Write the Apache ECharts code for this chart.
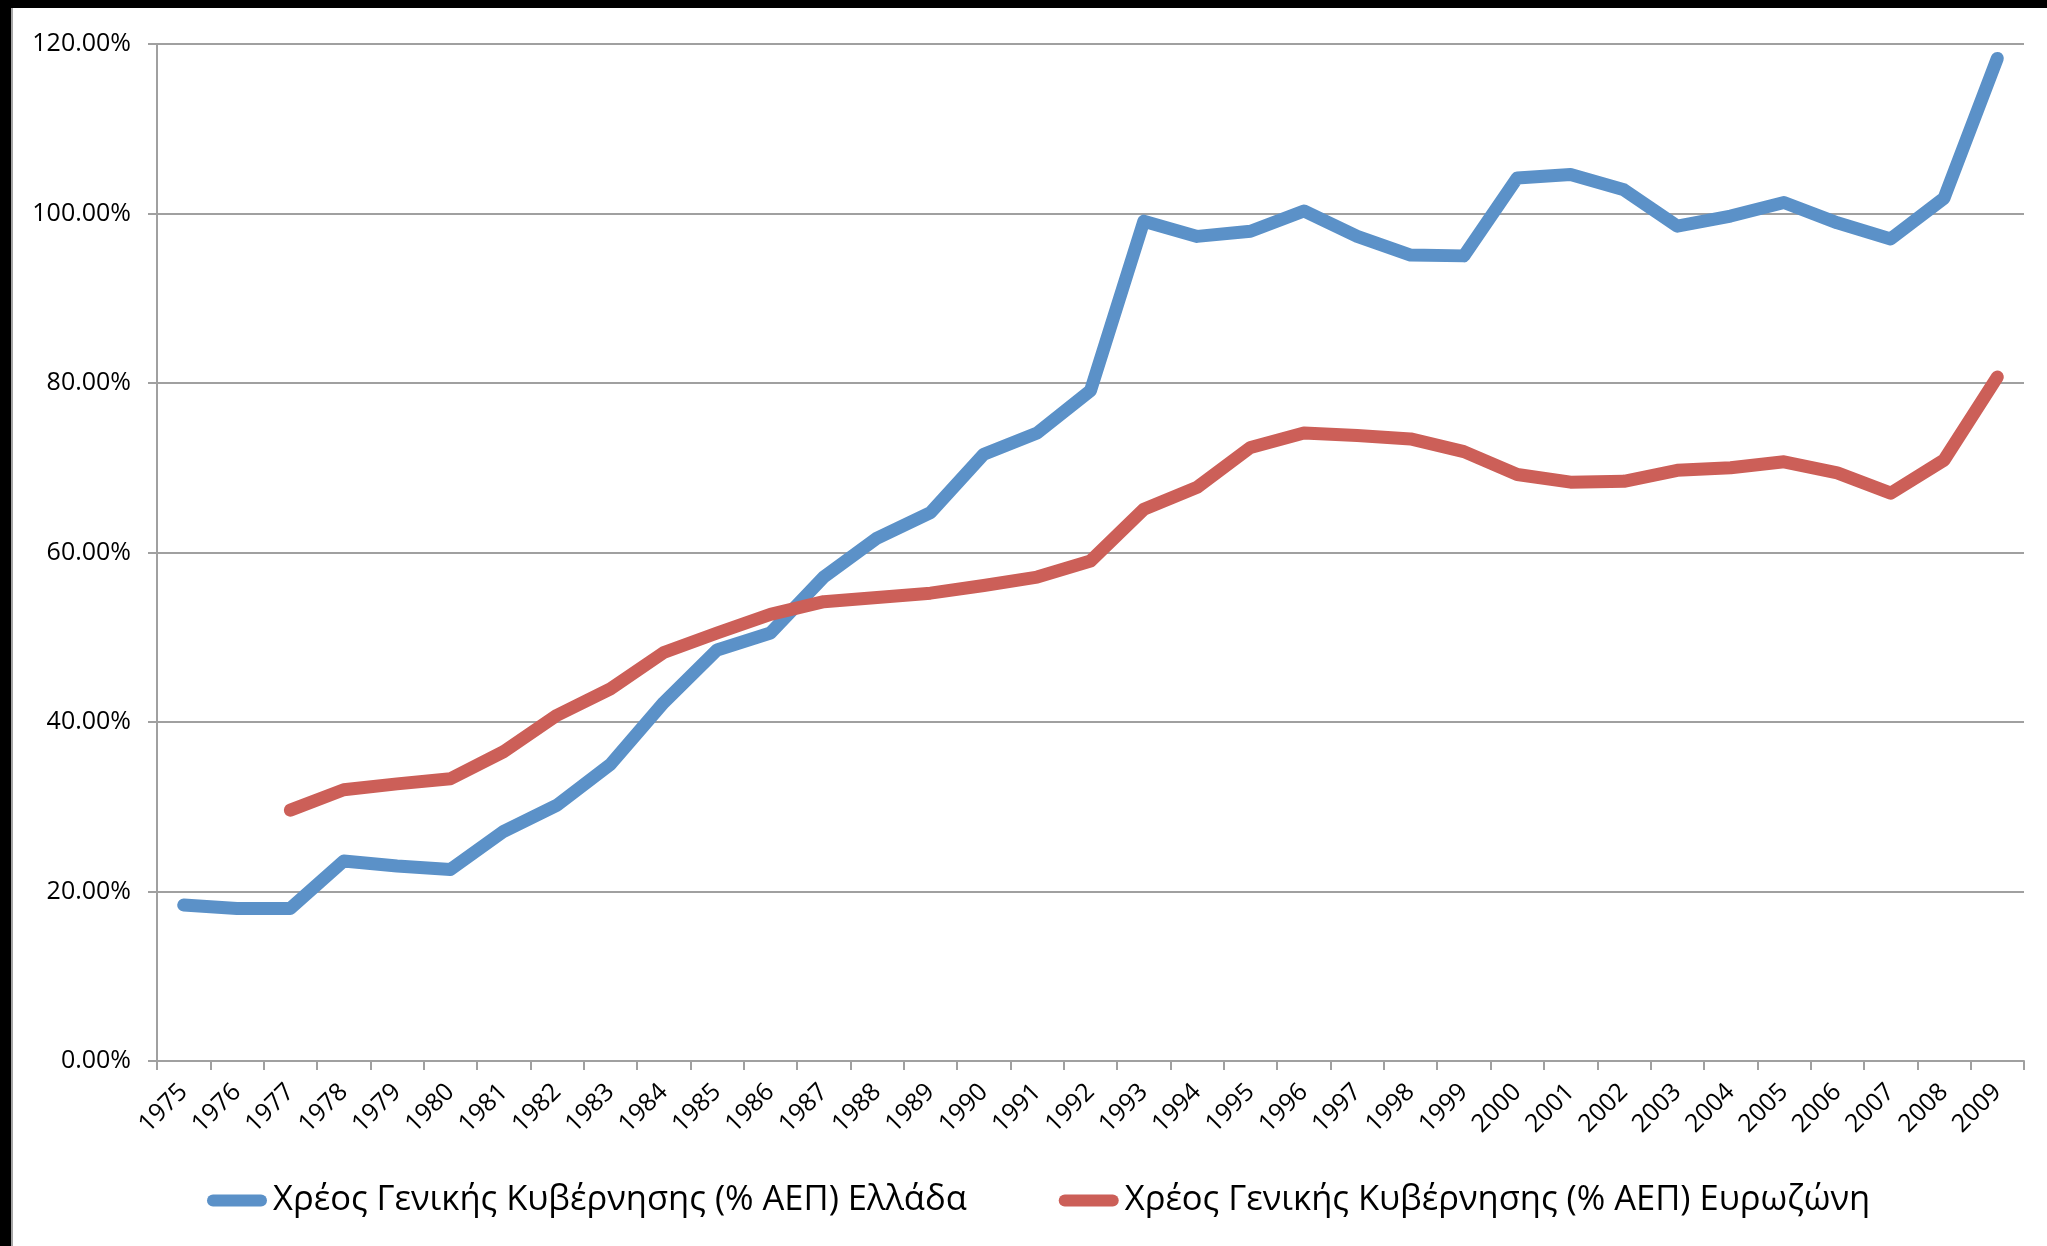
<!DOCTYPE html>
<html>
<head>
<meta charset="utf-8">
<script src="https://cdn.jsdelivr.net/npm/echarts@6/dist/echarts.min.js"></script>
<style>
	html, body { margin: 0; padding: 0; background: #fff; }
	#frame { width: 2047px; height: 1246px; box-sizing: border-box; border-top: 8px solid #000; border-left: 11px solid #000; }
	#inner { width: 100%; height: 100%; box-sizing: border-box; border-left: 2px solid #a6a6a6; }
	#debt-chart { width: 2034px; height: 1238px; }
</style>
</head>
<body>
<div id="frame"><div id="inner"><div id="debt-chart"></div></div></div>
<script>
	// years on the x axis
	var years = ['1975', '1976', '1977', '1978', '1979', '1980', '1981', '1982', '1983', '1984',
		'1985', '1986', '1987', '1988', '1989', '1990', '1991', '1992', '1993', '1994',
		'1995', '1996', '1997', '1998', '1999', '2000', '2001', '2002', '2003', '2004',
		'2005', '2006', '2007', '2008', '2009'];

	// Ελλάδα, % ΑΕΠ
	var greece = [18.4, 18.0, 18.0, 23.6, 23.0, 22.6, 27.1, 30.2, 35.0, 42.3,
		48.5, 50.5, 57.1, 61.7, 64.7, 71.6, 74.1, 79.1, 99.1, 97.3,
		97.9, 100.3, 97.3, 95.1, 95.0, 104.2, 104.6, 102.8, 98.5, 99.7,
		101.3, 98.9, 97.0, 101.8, 118.3];

	// Ευρωζώνη, % ΑΕΠ (no data before 1977)
	var eurozone = [null, null, 29.6, 32.0, 32.7, 33.3, 36.5, 40.8, 43.9, 48.2,
		50.5, 52.7, 54.2, 54.7, 55.2, 56.1, 57.1, 59.0, 65.1, 67.7,
		72.4, 74.1, 73.8, 73.4, 71.9, 69.2, 68.3, 68.4, 69.7, 70.0,
		70.7, 69.4, 67.0, 70.9, 80.7];

	var seriesNames = ['Χρέος Γενικής Κυβέρνησης (% ΑΕΠ) Ελλάδα', 'Χρέος Γενικής Κυβέρνησης (% ΑΕΠ) Ευρωζώνη'];
	var colors = ['#5b91c8', '#cc5f58'];

	var font = '"Open Sans", "Noto Sans", sans-serif';
	var capsule = 'path://M6,0 L54,0 A6,6 0 0 1 54,12 L6,12 A6,6 0 0 1 6,0 Z';

	var myChart = echarts.init(document.getElementById('debt-chart'));
	var options = {
		animation: false,
		textStyle: { fontFamily: font },
		grid: {
			left: 144,
			right: 23,
			top: 36,
			bottom: 185
		},
		legend: {
			data: seriesNames,
			top: 1170,
			left: 189,
			icon: capsule,
			itemWidth: 62,
			itemHeight: 12,
			itemGap: 92,
			textStyle: { fontFamily: font, fontSize: 34.5, color: '#000' }
		},
		xAxis: {
			type: 'category',
			boundaryGap: true,
			data: years,
			axisLine: { lineStyle: { color: '#a0a0a0', width: 2 } },
			axisTick: { show: true, length: 9, lineStyle: { color: '#a0a0a0', width: 2 } },
			axisLabel: { rotate: 45, interval: 0, margin: 27, fontSize: 25, color: '#000', fontFamily: font }
		},
		yAxis: {
			type: 'value',
			min: 0,
			max: 120,
			interval: 20,
			axisLine: { show: true, lineStyle: { color: '#a0a0a0', width: 2 } },
			axisTick: { show: true, length: 9, lineStyle: { color: '#a0a0a0', width: 2 } },
			splitLine: { lineStyle: { color: '#a0a0a0', width: 2 } },
			axisLabel: {
				margin: 26,
				fontSize: 25,
				color: '#000',
				fontFamily: font,
				formatter: function (v) { return v.toFixed(2) + '%'; }
			}
		},
		series: [
			{
				name: seriesNames[0],
				type: 'line',
				data: greece,
				symbol: 'none',
				color: colors[0],
				lineStyle: { width: 13, cap: 'round', join: 'round' }
			},
			{
				name: seriesNames[1],
				type: 'line',
				data: eurozone,
				symbol: 'none',
				color: colors[1],
				lineStyle: { width: 13, cap: 'round', join: 'round' }
			}
		]
	};
	myChart.setOption(options);
</script>
</body>
</html>
